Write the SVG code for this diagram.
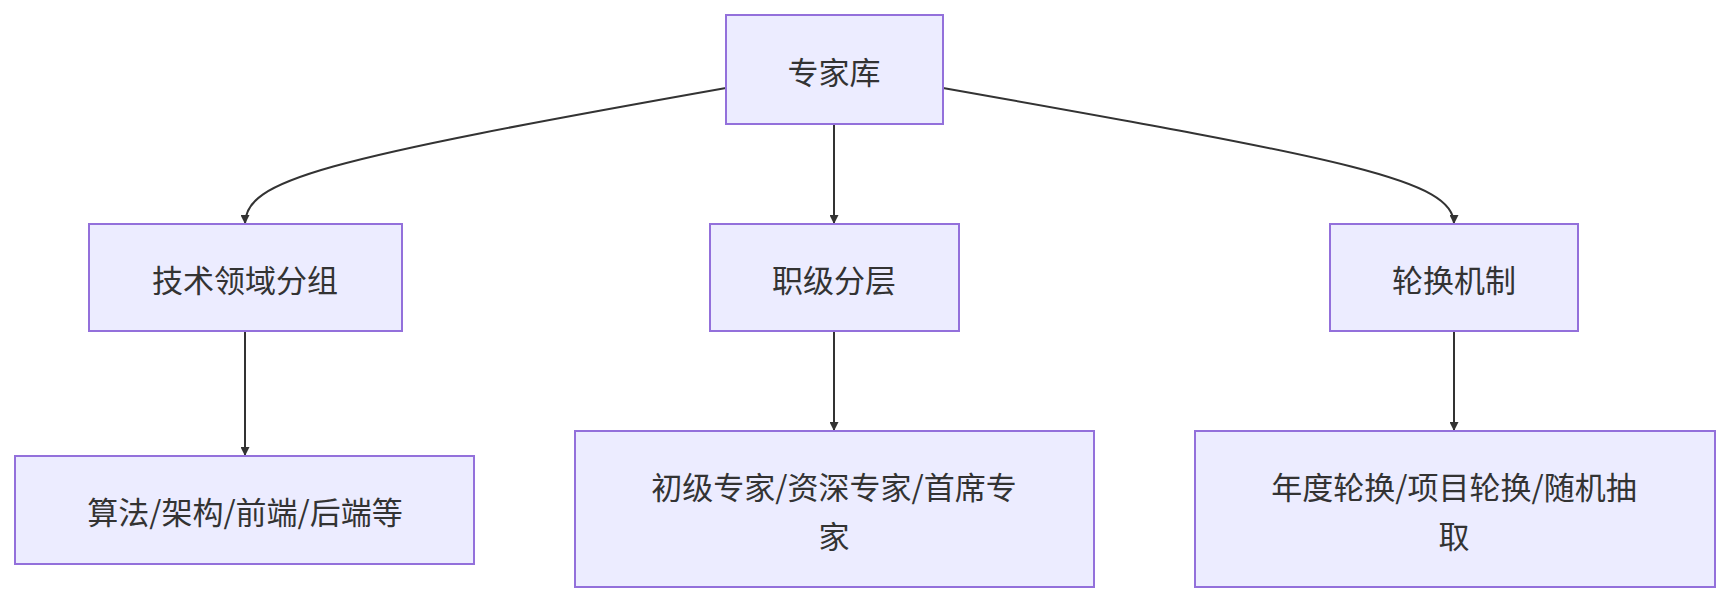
<svg xmlns="http://www.w3.org/2000/svg" width="1730" height="604" viewBox="0 0 1730 604">
<style>
.n rect{fill:#ECECFF;stroke:#9370DB;stroke-width:2}
.n text{font-family:"Noto Sans CJK SC","Liberation Sans",sans-serif;font-size:31px;fill:#333;text-anchor:middle;dominant-baseline:central}
.e path{fill:none;stroke:#333;stroke-width:2;marker-end:url(#a)}
</style>
<defs><marker id="a" viewBox="0 0 10 10" refX="10" refY="5" markerWidth="9" markerHeight="9" markerUnits="userSpaceOnUse" orient="auto"><path d="M0,0L10,5L0,10z" fill="#333"/></marker></defs>
<rect width="1730" height="604" fill="#fff"/>
<g class="e">
<path d="M726,88 C320,160 245,180 245,224"/>
<path d="M834,124 V224"/>
<path d="M943,88 C1350,160 1454,180 1454,224"/>
<path d="M245,331 V456"/>
<path d="M834,331 V431"/>
<path d="M1454,331 V431"/>
</g>
<g id="root" class="n"><rect x="726" y="15" width="217" height="109"/><text x="834" y="70">专家库</text></g>
<g id="tech" class="n"><rect x="89" y="224" width="313" height="107"/><text x="245" y="278">技术领域分组</text></g>
<g id="level" class="n"><rect x="710" y="224" width="249" height="107"/><text x="834" y="278">职级分层</text></g>
<g id="rot" class="n"><rect x="1330" y="224" width="248" height="107"/><text x="1454" y="278">轮换机制</text></g>
<g id="algo" class="n"><rect x="15" y="456" width="459" height="108"/><text x="245" y="510">算法/架构/前端/后端等</text></g>
<g id="grade" class="n"><rect x="575" y="431" width="519" height="156"/><text x="834" y="485">初级专家/资深专家/首席专</text><text x="834" y="534">家</text></g>
<g id="mode" class="n"><rect x="1195" y="431" width="520" height="156"/><text x="1454" y="485">年度轮换/项目轮换/随机抽</text><text x="1454" y="534">取</text></g>
</svg>
